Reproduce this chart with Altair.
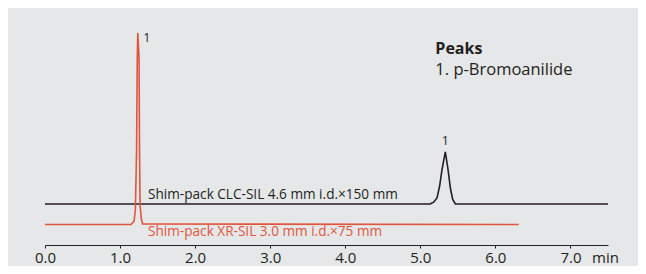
import altair as alt
import pandas as pd

# CLC-SIL (black) trace: retention time (min) and signal (arbitrary units)
black_t = [0.0, 5.13, 5.178, 5.222, 5.257, 5.289, 5.333, 5.369, 5.40, 5.431, 5.467, 7.5]
black_v = [41.0, 41.0, 42.8, 47.0, 59.0, 75.5, 93.2, 75.5, 57.0, 45.5, 41.0, 41.0]

# XR-SIL (red) trace
red_t = [0.0, 1.147, 1.187, 1.204, 1.22, 1.229, 1.236, 1.253, 1.259, 1.267, 1.283, 1.30, 6.31]
red_v = [20.5, 20.5, 24.0, 35.5, 95.0, 185.0, 212.0, 187.0, 95.0, 40.0, 26.0, 21.0, 20.5]

tick_values = [0, 1, 2, 3, 4, 5, 6, 7]

BLACK = "#231f20"
RED = "#e0553d"
FONT = "Open Sans"

df_black = pd.DataFrame({"t": black_t, "v": black_v})
df_red = pd.DataFrame({"t": red_t, "v": red_v})

xscale = alt.Scale(domain=[0, 7.5], nice=False, zero=False)
yscale = alt.Scale(domain=[0, 225], nice=False, zero=False)

xaxis = alt.Axis(
    values=tick_values, format=".1f", title=None, grid=False,
    domainColor=BLACK, domainWidth=1.2, tickColor=BLACK, tickSize=3,
    labelFont=FONT, labelFontSize=15, labelColor=BLACK, labelFlush=False,
    labelBaseline="alphabetic", labelPadding=14.5,
)

black_line = alt.Chart(df_black).mark_line(color=BLACK, strokeWidth=1.6).encode(
    x=alt.X("t:Q", scale=xscale, axis=xaxis),
    y=alt.Y("v:Q", scale=yscale, axis=None),
)
red_line = alt.Chart(df_red).mark_line(color=RED, strokeWidth=1.6).encode(
    x=alt.X("t:Q", scale=xscale),
    y=alt.Y("v:Q", scale=yscale),
)

# annotations
ann_text = ["Shim-pack CLC-SIL 4.6 mm i.d.×150 mm", "Shim-pack XR-SIL 3.0 mm i.d.×75 mm",
            "1. p-Bromoanilide"]
ann_t = [1.373, 1.373, 5.2]
ann_v = [46.5, 9.0, 170.5]
ann_c = [BLACK, RED, BLACK]
ann_size = [13.6, 13.6, 16.5]
df_ann = pd.DataFrame({"label": ann_text, "t": ann_t, "v": ann_v, "c": ann_c, "s": ann_size})

ann = alt.Chart(df_ann).mark_text(align="left", baseline="alphabetic", font=FONT).encode(
    x="t:Q", y="v:Q", text="label:N",
    color=alt.Color("c:N", scale=None), size=alt.Size("s:Q", scale=None),
)

peaks_title = alt.Chart(pd.DataFrame({"label": ["Peaks"], "t": [5.2], "v": [191.5]})).mark_text(
    align="left", baseline="alphabetic", font=FONT, fontSize=16, fontWeight="bold", color=BLACK
).encode(x="t:Q", y="v:Q", text="label:N")

pk_t = [1.356, 5.333]
pk_v = [203.5, 100.0]
pk_lab = ["1", "1"]
peak_labels = alt.Chart(pd.DataFrame({"label": pk_lab, "t": pk_t, "v": pk_v})).mark_text(
    align="center", baseline="alphabetic", font=FONT, fontSize=12.5, color=BLACK
).encode(x="t:Q", y="v:Q", text="label:N")

unit = alt.Chart(pd.DataFrame({"label": ["min"], "t": [7.467], "v": [-17.5]})).mark_text(
    align="center", baseline="alphabetic", font=FONT, fontSize=15, color=BLACK
).encode(x="t:Q", y="v:Q", text="label:N")

chart = alt.layer(black_line, red_line, ann, peaks_title, peak_labels, unit).properties(
    width=563, height=225,
    autosize=alt.AutoSizeParams(type="none"),
    padding={"left": 37, "top": 12, "right": 30, "bottom": 21},
    background="#e6e7e8",
).configure_view(stroke=None)

chart.save("out.html", embed_options={"renderer": "svg", "actions": False})
